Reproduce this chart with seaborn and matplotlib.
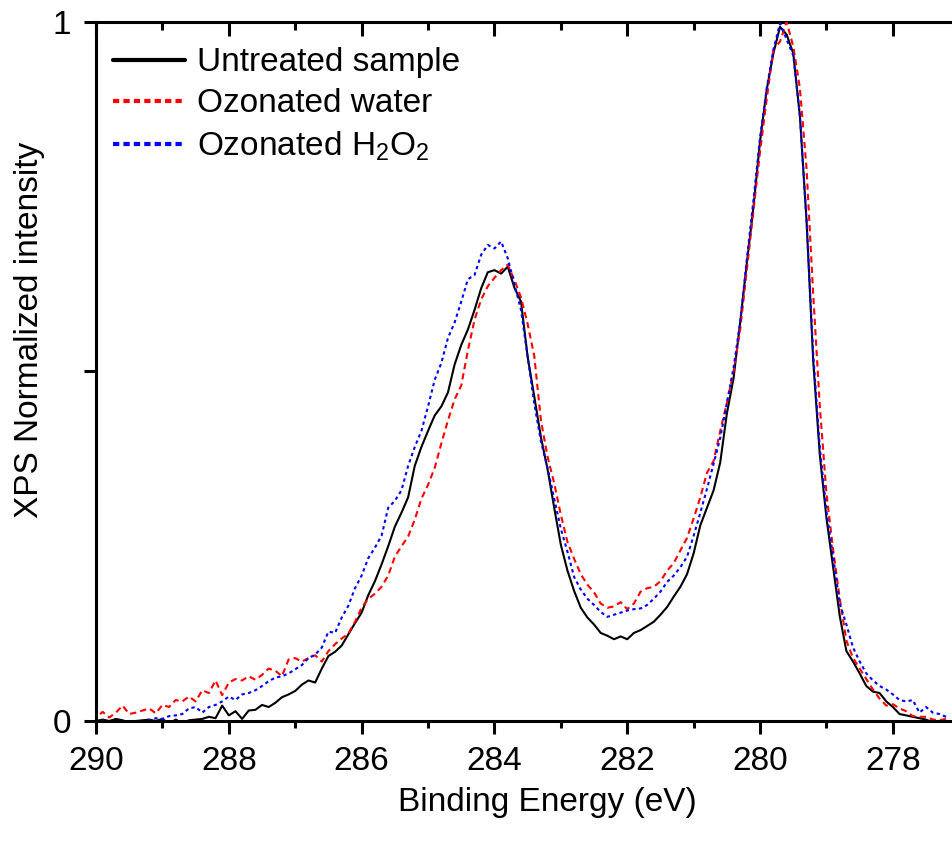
import numpy as np
import pandas as pd

import matplotlib
matplotlib.use("Agg")
import matplotlib.pyplot as plt
from matplotlib.ticker import MultipleLocator, FixedLocator
import seaborn as sns


# binding energy grid (eV), 290.0 -> 277.2 in 0.1 eV steps
ENERGY = [round(290.0 - 0.1 * i, 1) for i in range(129)]

UNTREATED = [
    0.000, 0.002, 0.000, 0.003, 0.001, -0.002, 0.000, 0.001, 0.002, 0.000,
    0.003, -0.004, 0.002, -0.003, 0.001, 0.002, 0.003, 0.006, 0.004, 0.022,
    0.008, 0.014, 0.003, 0.015, 0.016, 0.023, 0.020, 0.026, 0.034, 0.038,
    0.043, 0.052, 0.058, 0.055, 0.075, 0.093, 0.099, 0.108, 0.124, 0.140,
    0.155, 0.180, 0.200, 0.224, 0.250, 0.278, 0.298, 0.320, 0.365, 0.392,
    0.415, 0.437, 0.450, 0.470, 0.510, 0.538, 0.560, 0.588, 0.619, 0.642,
    0.645, 0.640, 0.650, 0.620, 0.600, 0.521, 0.464, 0.406, 0.360, 0.305,
    0.252, 0.215, 0.186, 0.162, 0.148, 0.138, 0.126, 0.122, 0.117, 0.121,
    0.117, 0.126, 0.130, 0.136, 0.142, 0.152, 0.163, 0.178, 0.192, 0.210,
    0.240, 0.280, 0.305, 0.330, 0.370, 0.440, 0.490, 0.570, 0.655, 0.735,
    0.830, 0.903, 0.955, 0.993, 0.982, 0.955, 0.865, 0.715, 0.515, 0.380,
    0.290, 0.220, 0.150, 0.100, 0.085, 0.068, 0.050, 0.042, 0.040, 0.028,
    0.020, 0.010, 0.008, 0.006, 0.004, 0.002, -0.002, -0.004, -0.006,
]

OZONATED_WATER = [
    0.005, 0.013, 0.005, 0.012, 0.022, 0.010, 0.012, 0.015, 0.018, 0.011,
    0.023, 0.020, 0.030, 0.028, 0.035, 0.028, 0.044, 0.040, 0.058, 0.037,
    0.055, 0.060, 0.058, 0.064, 0.059, 0.066, 0.075, 0.072, 0.064, 0.088,
    0.090, 0.085, 0.090, 0.094, 0.085, 0.100, 0.110, 0.118, 0.125, 0.142,
    0.162, 0.175, 0.182, 0.192, 0.208, 0.235, 0.250, 0.264, 0.288, 0.318,
    0.338, 0.362, 0.397, 0.430, 0.460, 0.480, 0.530, 0.574, 0.603, 0.622,
    0.634, 0.645, 0.653, 0.631, 0.606, 0.568, 0.522, 0.430, 0.378, 0.340,
    0.295, 0.256, 0.232, 0.210, 0.195, 0.184, 0.168, 0.162, 0.164, 0.170,
    0.160, 0.168, 0.185, 0.190, 0.192, 0.200, 0.215, 0.226, 0.244, 0.262,
    0.290, 0.320, 0.355, 0.372, 0.415, 0.455, 0.500, 0.560, 0.645, 0.730,
    0.815, 0.890, 0.960, 0.972, 1.000, 0.965, 0.905, 0.790, 0.610, 0.450,
    0.325, 0.245, 0.175, 0.115, 0.090, 0.075, 0.060, 0.045, 0.032, 0.022,
    0.024, 0.018, 0.014, 0.007, 0.006, 0.006, 0.002, 0.001, 0.003,
]

OZONATED_H2O2 = [
    -0.015, -0.002, -0.001, -0.003, -0.004, -0.002, -0.003, 0.000, 0.001, 0.004,
    0.003, 0.007, 0.008, 0.010, 0.018, 0.020, 0.012, 0.020, 0.023, 0.028,
    0.035, 0.030, 0.038, 0.040, 0.044, 0.050, 0.057, 0.062, 0.064, 0.068,
    0.074, 0.080, 0.090, 0.095, 0.105, 0.128, 0.126, 0.148, 0.165, 0.190,
    0.208, 0.233, 0.248, 0.265, 0.305, 0.315, 0.330, 0.365, 0.392, 0.415,
    0.450, 0.488, 0.512, 0.548, 0.570, 0.600, 0.632, 0.638, 0.667, 0.681,
    0.676, 0.686, 0.662, 0.625, 0.588, 0.521, 0.454, 0.400, 0.362, 0.318,
    0.275, 0.242, 0.206, 0.188, 0.175, 0.166, 0.156, 0.149, 0.152, 0.155,
    0.158, 0.160, 0.161, 0.166, 0.175, 0.185, 0.199, 0.208, 0.220, 0.235,
    0.265, 0.298, 0.332, 0.368, 0.405, 0.455, 0.505, 0.570, 0.660, 0.745,
    0.835, 0.905, 0.960, 0.998, 0.975, 0.952, 0.865, 0.715, 0.525, 0.390,
    0.300, 0.235, 0.168, 0.138, 0.105, 0.085, 0.068, 0.058, 0.050, 0.045,
    0.038, 0.030, 0.028, 0.030, 0.012, 0.020, 0.012, 0.010, 0.006,
]

LABELS = ["Untreated sample", "Ozonated water", "Ozonated H$_2$O$_2$"]
COLORS = ["black", "#ff0000", "#0000ff"]
DASHES = ["", (3, 2), (1.6, 1.6)]


sns.set_style("ticks")
plt.rcParams["font.family"] = ["Liberation Sans", "DejaVu Sans"]
plt.rcParams["mathtext.fontset"] = "custom"
plt.rcParams["mathtext.rm"] = "Liberation Sans"
plt.rcParams["mathtext.it"] = "Liberation Sans:italic"
plt.rcParams["mathtext.default"] = "regular"
for key in ["text.color", "axes.labelcolor", "xtick.color", "ytick.color", "axes.edgecolor"]:
    plt.rcParams[key] = "black"

FS = 24

df = pd.DataFrame({
    "energy": ENERGY * 3,
    "intensity": UNTREATED + OZONATED_WATER + OZONATED_H2O2,
    "sample": [LABELS[0]] * len(ENERGY) + [LABELS[1]] * len(ENERGY) + [LABELS[2]] * len(ENERGY),
})

fig = plt.figure(figsize=(9.52, 8.47), dpi=100)
ax = fig.add_axes([96 / 952, 1 - 721 / 847, 1 - 96 / 952, (721 - 22) / 847])

sns.lineplot(
    data=df, x="energy", y="intensity", hue="sample", style="sample",
    palette=dict(zip(LABELS, COLORS)), dashes=dict(zip(LABELS, DASHES)),
    hue_order=LABELS, style_order=LABELS, linewidth=1.5, ax=ax,
)

ax.set_xlim(290, 277.11)
ax.set_ylim(0, 1)

ax.xaxis.set_major_locator(MultipleLocator(2))
ax.xaxis.set_minor_locator(MultipleLocator(1))
ax.yaxis.set_major_locator(FixedLocator([0, 0.5, 1]))
ax.set_yticklabels(["0", "", "1"])
ax.set_xticklabels([f"{int(t)}" for t in ax.get_xticks()])

for side in ["left", "bottom"]:
    ax.spines[side].set_linewidth(2.2)
ax.spines["right"].set_visible(False)
ax.spines["top"].set_visible(False)

ax.tick_params(axis="both", which="major", labelsize=FS, width=2.2, length=9,
               direction="out", pad=9)
ax.tick_params(axis="x", which="minor", width=2.2, length=5, direction="out")

# top axis: ticks point into the box, no labels
sec = ax.secondary_xaxis("top")
sec.xaxis.set_major_locator(MultipleLocator(2))
sec.xaxis.set_minor_locator(MultipleLocator(1))
sec.tick_params(which="major", direction="in", length=10, width=2.2, labeltop=False)
sec.tick_params(which="minor", direction="in", length=6, width=2.2)
sec.spines["top"].set_linewidth(2.2)

ax.set_xlabel("Binding Energy (eV)", fontsize=FS)
ax.set_ylabel("XPS Normalized intensity", fontsize=FS)
ax.xaxis.set_label_coords(0.527, -0.094)
ax.yaxis.set_label_coords(-0.06, 0.56)

handles, labels = ax.get_legend_handles_labels()
leg = ax.legend(handles, labels, loc="upper left", bbox_to_anchor=(-0.007, 0.997),
                frameon=False, fontsize=FS, handlelength=2.15, handletextpad=0.35,
                labelspacing=0.3, borderaxespad=0.3)
for line, d in zip(leg.get_lines(), DASHES):
    line.set_linewidth(3)
    if d:
        line.set_dashes((1.5, 1.0))

fig.savefig("out.png", dpi=100)
